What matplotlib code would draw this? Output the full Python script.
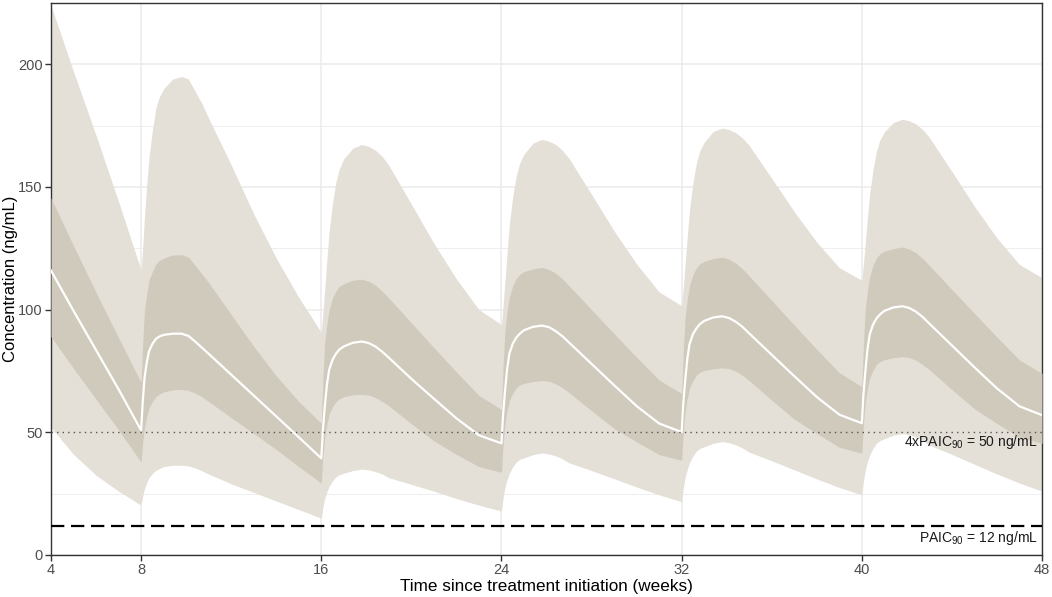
import numpy as np
import matplotlib
matplotlib.use("Agg")
import matplotlib.pyplot as plt

plt.rcParams['font.family'] = ['Liberation Sans', 'DejaVu Sans']
plt.rcParams['mathtext.default'] = 'regular'

# Time points (weeks)
weeks = [4, 5, 6, 7,
         8, 8.07, 8.15, 8.25, 8.35, 8.5, 8.65, 8.8, 9, 9.4, 9.8, 10.1, 10.4, 10.7, 11, 12, 13, 14, 15,
         16, 16.07, 16.15, 16.25, 16.35, 16.5, 16.65, 16.8, 17, 17.4, 17.8, 18.1, 18.4, 18.7, 19, 20, 21, 22, 23,
         24, 24.07, 24.15, 24.25, 24.35, 24.5, 24.65, 24.8, 25, 25.4, 25.8, 26.1, 26.4, 26.7, 27, 28, 29, 30, 31,
         32, 32.07, 32.15, 32.25, 32.35, 32.5, 32.65, 32.8, 33, 33.4, 33.8, 34.1, 34.4, 34.7, 35, 36, 37, 38, 39,
         40, 40.07, 40.15, 40.25, 40.35, 40.5, 40.65, 40.8, 41, 41.4, 41.8, 42.1, 42.4, 42.7, 43, 44, 45, 46, 47,
         48]

# 95th percentile
p95 = [224, 197, 171, 144,
       116, 125, 138, 151, 162, 173, 182, 186.5, 190, 194, 195, 194, 189, 184, 178, 159, 139, 121, 105,
       90.7, 98.4, 108, 120.6, 132, 143.6, 152, 157.3, 161.5, 165.8, 167.3, 166.6, 165, 162.5, 158.8, 143, 127, 112.5, 100,
       93.9, 101.5, 111, 123.3, 134.7, 146, 154.3, 159.6, 163.4, 167.9, 169.4, 168.7, 167.4, 165, 161.6, 147, 132.1, 118.6, 107.2,
       101.6, 108.8, 118, 129.8, 140.7, 151.6, 159.5, 164.6, 168.2, 172.6, 174, 173.4, 172.1, 170, 166.9, 153.5, 139.9, 127.5, 117.1,
       112, 118.6, 126.8, 137.6, 147.4, 157.3, 164.5, 169.1, 172.4, 176.3, 177.6, 177, 175.7, 173.4, 170.2, 156.3, 142.1, 129.2, 118.4,
       113]

# 75th percentile
p75 = [145.5, 126, 107, 88.5,
       70.3, 86, 100, 106.5, 112, 115.5, 118.5, 120, 121, 122.3, 122.4, 121.4, 118, 114.5, 111, 98, 85, 73, 62.5,
       53.7, 71.3, 86, 94.2, 100, 104.8, 107.5, 109.5, 110.5, 112, 112.4, 111.6, 110, 107.6, 104.7, 94.6, 84.5, 74.6, 65,
       59.3, 76.7, 91.1, 99.3, 105, 109.7, 112.6, 114.3, 115.5, 116.6, 117.2, 116.4, 114.9, 112.6, 109.7, 100, 90.2, 80.6, 71.3,
       65.8, 82.5, 96.4, 104.2, 109.7, 114.2, 117, 118.6, 119.7, 120.8, 121.4, 120.6, 119, 116.6, 113.7, 103.7, 93.7, 83.8, 74.3,
       68.6, 85.7, 99.9, 107.9, 113.6, 118.1, 121, 122.7, 123.8, 124.9, 125.5, 124.7, 123.2, 120.9, 118, 108.2, 98.5, 88.8, 79.5,
       74]

# median
p50 = [115.9, 99.5, 83.5, 67.5,
       50.8, 62, 72, 78.5, 83, 86, 88, 89, 89.7, 90.2, 90.2, 89.3, 87, 84.5, 82, 73.5, 65, 56.5, 48,
       39.4, 50.8, 60, 69.4, 75.5, 79.6, 82, 83.7, 85, 86.5, 87, 86.4, 85, 82.9, 80.4, 71.8, 63.7, 55.7, 48.8,
       45.5, 57, 66.1, 75.7, 82, 86.1, 88.5, 90.1, 91.6, 93, 93.5, 92.9, 91.3, 89.2, 86.6, 77.9, 69.2, 60.7, 53.6,
       50.1, 61.4, 70.4, 79.8, 86, 90, 92.3, 94, 95.4, 96.8, 97.3, 96.6, 95.1, 93, 90.3, 81.6, 72.9, 64.4, 57.2,
       53.7, 65.1, 74.2, 83.8, 89.9, 94, 96.4, 98, 99.5, 100.9, 101.4, 100.7, 99.2, 97, 94.3, 85.4, 76.5, 67.9, 60.6,
       57]

# 25th percentile
p25 = [89, 76, 63.5, 51,
       37.8, 46, 52, 56.5, 60, 62.5, 64.5, 65.5, 66.5, 67.3, 67.5, 67.1, 66, 64.5, 62.5, 56, 49.5, 43, 36,
       29.3, 40.2, 48, 53.6, 57.5, 60.4, 62.5, 63.7, 64.5, 65.3, 65.5, 65.2, 64.2, 62.6, 60.8, 53.5, 46.5, 41, 36,
       33.7, 44.9, 53.1, 58.8, 62.9, 65.9, 68.1, 69.2, 70, 70.7, 71.1, 70.8, 69.8, 68.2, 66.2, 58.8, 51.6, 46.1, 40.9,
       38.6, 49.9, 58.2, 63.9, 68, 71, 73.3, 74.4, 75.2, 75.9, 76.3, 76, 74.9, 73.2, 71.1, 63.1, 55.4, 49.5, 43.9,
       41.5, 53.3, 61.9, 67.8, 72.2, 75.3, 77.7, 78.8, 79.6, 80.4, 80.8, 80.5, 79.4, 77.6, 75.5, 67.4, 59.6, 53.6, 48,
       45.5]

# 5th percentile
p05 = [52, 41, 32.5, 26,
       20.3, 24, 27, 29.5, 31.5, 33.2, 34.5, 35.2, 36, 36.6, 36.6, 36.3, 35.5, 34.3, 33, 29, 25.5, 22, 18.5,
       15, 19.4, 23, 25.8, 28, 30.2, 31.8, 32.7, 33.3, 34.4, 35, 34.7, 34, 33, 31.5, 28.8, 26, 23, 20.3,
       17.9, 23.1, 27.4, 30.7, 33.3, 35.9, 37.8, 38.9, 39.6, 40.9, 41.6, 41.2, 40.4, 39.2, 37.6, 34.4, 31.1, 27.7, 24.5,
       21.7, 27.1, 31.5, 34.9, 37.6, 40.3, 42.3, 43.4, 44.1, 45.5, 46.2, 45.8, 44.9, 43.6, 41.9, 38.4, 34.7, 31, 27.5,
       24.5, 30, 34.5, 38, 40.8, 43.5, 45.5, 46.6, 47.4, 48.8, 49.5, 49, 48.1, 46.7, 44.8, 41, 37, 33, 29.3,
       26]

x_ticks = [4, 8, 16, 24, 32, 40, 48]
y_ticks = [0, 50, 100, 150, 200]
target_4x = 50
target_1x = 12

fig = plt.figure(figsize=(10.52, 5.97), dpi=100)
ax = fig.add_axes([0.0485, 0.0704, 0.942, 0.9246])

ax.fill_between(weeks, p05, p95, color='#e4e0d8', linewidth=0, zorder=2)
ax.fill_between(weeks, p25, p75, color='#cfcabb', linewidth=0, zorder=3)
ax.plot(weeks, p50, color='white', linewidth=1.6, zorder=4, solid_joinstyle='round')

ax.axhline(target_4x, color='#555555', linestyle=(0, (1, 3)), linewidth=1.0, zorder=5)
ax.axhline(target_1x, color='black', linestyle=(0, (6, 3)), linewidth=1.6, zorder=5)

ax.text(47.8, 46, "4xPAIC$_{90}$ = 50 ng/mL", ha='right', va='center', fontsize=10, color='#1a1a1a', zorder=6)
ax.text(47.8, 7, "PAIC$_{90}$ = 12 ng/mL", ha='right', va='center', fontsize=10, color='#1a1a1a', zorder=6)

ax.set_xlim(4, 48)
ax.set_ylim(0, 224.5)
ax.set_xticks(x_ticks)
ax.set_yticks(y_ticks)
ax.set_yticks([25, 75, 125, 175, 225], minor=True)
ax.grid(True, which='major', color='#ebebeb', linewidth=1.1, zorder=0)
ax.grid(True, which='minor', axis='y', color='#ebebeb', linewidth=0.6, zorder=0)
ax.set_axisbelow(True)
ax.tick_params(axis='both', which='major', direction='out', length=4, width=1, color='#333333',
               labelsize=10.5, labelcolor='#4d4d4d', pad=2)
ax.tick_params(axis='both', which='minor', length=0)
for s in ax.spines.values():
    s.set_color('#333333')
    s.set_linewidth(1.0)

ax.set_xlabel("Time since treatment initiation (weeks)", fontsize=12.3, labelpad=1)
ax.set_ylabel("Concentration (ng/mL)", fontsize=12)
ax.yaxis.set_label_coords(-0.033, 0.5)

fig.savefig("out.png", dpi=100)
